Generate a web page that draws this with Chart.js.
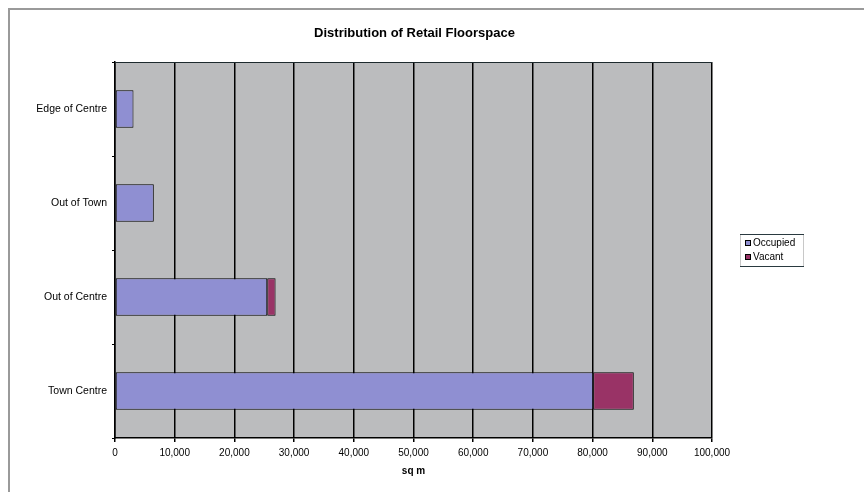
<!DOCTYPE html>
<html>
<head>
<meta charset="utf-8">
<title>Distribution of Retail Floorspace</title>
<script src="https://cdn.jsdelivr.net/npm/chart.js@4"></script>
<style>
  html, body { margin: 0; padding: 0; background: #ffffff; }
  #wrap { position: relative; width: 864px; height: 492px; }
</style>
</head>
<body>
<div id="wrap"><canvas id="chart" width="864" height="492"></canvas></div>
<script>
// Floorspace by location (sq m)
const categories = ['Edge of Centre', 'Out of Town', 'Out of Centre', 'Town Centre'];
const occupied = [3100, 6500, 25500, 80100];
const vacant = [0, 0, 1400, 6800];
const seriesNames = ['Occupied', 'Vacant'];
const xTicks = [0, 10000, 20000, 30000, 40000, 50000, 60000, 70000, 80000, 90000, 100000];

const chartTitle = 'Distribution of Retail Floorspace';
const axisTitle = 'sq m';
const FONT = '"Liberation Sans", Arial, sans-serif';

// Grey plot area, outer frame, title and boxed legend
const decorations = {
  id: 'decorations',
  beforeDraw(chart) {
    const { ctx, chartArea: a } = chart;
    ctx.save();
    ctx.fillStyle = '#bbbcbe';
    ctx.fillRect(a.left, a.top, a.right - a.left, a.bottom - a.top);
    // frame around the whole chart
    ctx.strokeStyle = '#9a9a9a';
    ctx.lineWidth = 2;
    ctx.beginPath();
    ctx.moveTo(9, 492);
    ctx.lineTo(9, 9);
    ctx.lineTo(864, 9);
    ctx.stroke();
    ctx.restore();
  },
  afterDraw(chart) {
    const { ctx, chartArea: a } = chart;
    ctx.save();
    // top edge of the plot area
    ctx.strokeStyle = '#1d2a2e';
    ctx.lineWidth = 1;
    ctx.beginPath();
    ctx.moveTo(a.left, a.top + 0.5);
    ctx.lineTo(a.right, a.top + 0.5);
    ctx.stroke();

    // title
    ctx.fillStyle = '#000';
    ctx.font = 'bold 13px ' + FONT;
    ctx.textAlign = 'center';
    ctx.textBaseline = 'middle';
    ctx.fillText(chartTitle, (a.left + a.right) / 2 + 1, 33);

    // legend
    const lx = 740, ly = 234, lw = 63, lh = 32;
    ctx.strokeStyle = '#c8c8c8';
    ctx.strokeRect(lx + 0.5, ly + 0.5, lw, lh);
    ctx.strokeStyle = '#2a3a40';
    ctx.beginPath();
    ctx.moveTo(lx, ly + 0.5); ctx.lineTo(lx + lw + 1, ly + 0.5);
    ctx.moveTo(lx, ly + lh + 0.5); ctx.lineTo(lx + lw + 1, ly + lh + 0.5);
    ctx.stroke();
    ctx.font = '10px ' + FONT;
    ctx.textAlign = 'left';
    chart.data.datasets.forEach((ds, i) => {
      const y = ly + 9 + i * 14;
      ctx.fillStyle = ds.backgroundColor;
      ctx.fillRect(lx + 5, y - 3, 6, 6);
      ctx.strokeStyle = '#000';
      ctx.strokeRect(lx + 5.5, y - 2.5, 5, 5);
      ctx.fillStyle = '#000';
      ctx.fillText(ds.label, lx + 13, y + 0.5);
    });
    ctx.restore();
  }
};

new Chart(document.getElementById('chart'), {
  type: 'bar',
  data: {
    labels: categories,
    datasets: [
      { label: seriesNames[0], data: occupied, backgroundColor: '#8f8fd2', borderColor: '#000', borderWidth: 1, borderSkipped: false },
      { label: seriesNames[1], data: vacant, backgroundColor: '#993366', borderColor: '#000', borderWidth: 1, borderSkipped: false }
    ]
  },
  options: {
    indexAxis: 'y',
    responsive: false,
    animation: false,
    layout: { padding: { top: 62, right: 152, left: 0, bottom: 0 } },
    datasets: { bar: { categoryPercentage: 1.0, barPercentage: 0.4 } },
    plugins: {
      legend: { display: false },
      title: { display: false },
      tooltip: { enabled: false }
    },
    scales: {
      x: {
        stacked: true,
        min: xTicks[0],
        max: xTicks[xTicks.length - 1],
        afterBuildTicks(scale) { scale.ticks = xTicks.map(v => ({ value: v })); },
        afterFit(scale) { scale.height = 54; },
        grid: { color: '#000', lineWidth: 1.5, tickLength: 4, drawTicks: true },
        border: { color: '#000', width: 1.5 },
        ticks: {
          color: '#000',
          padding: 5,
          maxRotation: 0,
          font: { family: FONT, size: 10 },
          callback: v => Number(v).toLocaleString('en-US')
        },
        title: {
          display: true,
          text: axisTitle,
          color: '#000',
          font: { family: FONT, size: 10, weight: 'bold' },
          padding: { top: 4, bottom: 15 }
        }
      },
      y: {
        stacked: true,
        afterFit(scale) { scale.width = 115; },
        grid: { display: true, drawOnChartArea: false, offset: true, tickLength: 3, color: '#000' },
        border: { color: '#000', width: 1.5 },
        ticks: {
          color: '#000',
          padding: 5,
          font: { family: FONT, size: 10.5 }
        }
      }
    }
  },
  plugins: [decorations]
});
</script>
</body>
</html>
